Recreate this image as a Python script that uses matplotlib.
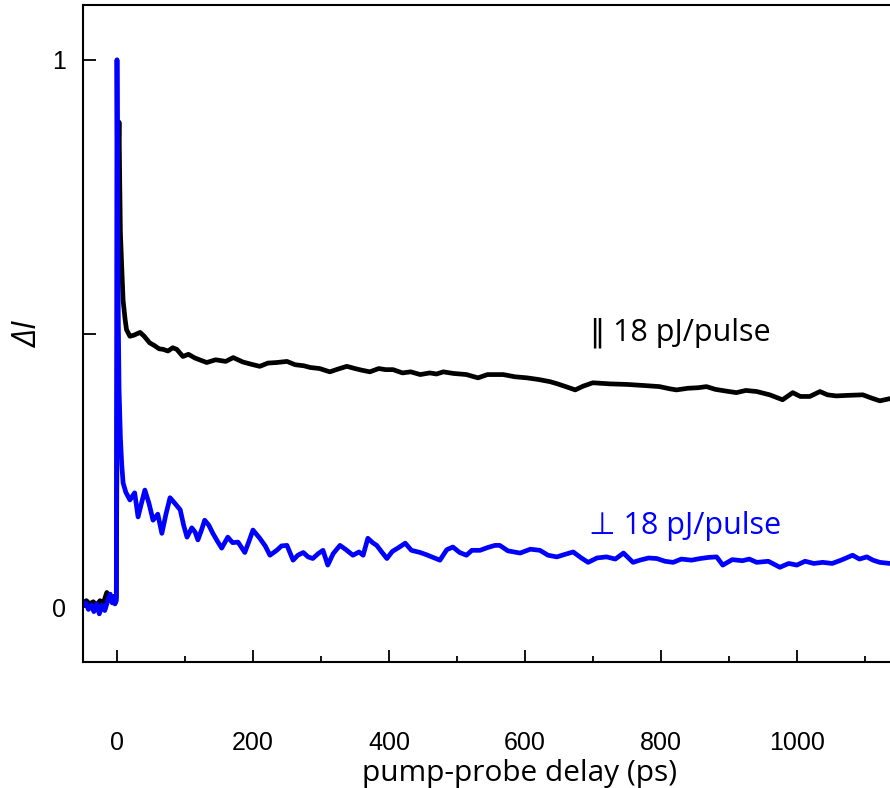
import matplotlib
matplotlib.use("Agg")
from matplotlib import pyplot as plt
from matplotlib.ticker import MultipleLocator, FixedLocator

plt.rcParams["font.family"] = ["Liberation Sans", "DejaVu Sans"]

# parallel polarisation, 18 pJ/pulse  (delay ps, dI)
par_pts = [(-50, 0.008), (-45, 0.012), (-40, 0.006), (-35, 0.010), (-30, 0.004),
           (-25, 0.012), (-20, 0.008), (-15, 0.027), (-10, 0.015), (-5, 0.020),
           (-2, 0.012), (-1, 0.020), (0, 0.30), (1, 0.62), (2, 0.82), (3, 0.886),
           (4, 0.78), (5, 0.685), (7, 0.62), (9, 0.56), (12, 0.525), (14, 0.507),
           (19, 0.495), (25, 0.497), (34, 0.502), (40, 0.495), (48, 0.483),
           (55, 0.478), (62, 0.472), (68, 0.471), (75, 0.468), (82, 0.474),
           (88, 0.471), (97, 0.458), (105, 0.462), (115, 0.455), (132, 0.447),
           (145, 0.452), (160, 0.449), (171, 0.456), (185, 0.448), (197, 0.444),
           (210, 0.440), (222, 0.446), (235, 0.447), (250, 0.449), (262, 0.443),
           (275, 0.441), (284, 0.438), (298, 0.436), (313, 0.430), (325, 0.435),
           (338, 0.440), (350, 0.436), (360, 0.433), (372, 0.430), (385, 0.436),
           (395, 0.434), (406, 0.434), (420, 0.428), (432, 0.430), (446, 0.425),
           (460, 0.428), (470, 0.426), (480, 0.430), (495, 0.427), (505, 0.426),
           (514, 0.425), (531, 0.419), (545, 0.425), (568, 0.425), (585, 0.421),
           (603, 0.419), (620, 0.416), (637, 0.412), (648, 0.408), (660, 0.403),
           (674, 0.397), (686, 0.404), (700, 0.410), (725, 0.408), (750, 0.407),
           (775, 0.405), (798, 0.403), (813, 0.399), (823, 0.397), (840, 0.400),
           (855, 0.401), (867, 0.403), (880, 0.398), (895, 0.395), (911, 0.392),
           (925, 0.396), (941, 0.394), (960, 0.388), (979, 0.379), (994, 0.392),
           (1005, 0.385), (1019, 0.385), (1034, 0.394), (1045, 0.388), (1058, 0.386),
           (1075, 0.387), (1097, 0.388), (1110, 0.382), (1122, 0.377), (1137, 0.381)]

# perpendicular polarisation, 18 pJ/pulse
perp_pts = [(-50, 0.005), (-46, 0.008), (-42, -0.004), (-38, 0.004), (-34, -0.008),
            (-30, 0.006), (-26, -0.012), (-22, 0.004), (-18, -0.006), (-14, 0.010),
            (-10, 0.024), (-7, 0.008), (-5, 0.018), (-3, 0.006), (-1, 0.012),
            (0, 1.0), (1, 0.72), (2, 0.52), (3, 0.40), (5, 0.31), (7, 0.26),
            (9, 0.227), (13, 0.210), (19, 0.196), (26, 0.209), (31, 0.165),
            (36, 0.190), (41, 0.214), (47, 0.190), (53, 0.159), (60, 0.170),
            (66, 0.135), (72, 0.170), (78, 0.200), (85, 0.190), (93, 0.178),
            (98, 0.150), (103, 0.128), (110, 0.145), (115, 0.137), (119, 0.123),
            (124, 0.140), (129, 0.159), (135, 0.150), (141, 0.135), (148, 0.120),
            (154, 0.108), (163, 0.128), (170, 0.118), (178, 0.119), (188, 0.100),
            (194, 0.120), (200, 0.141), (210, 0.126), (218, 0.112), (225, 0.095),
            (235, 0.104), (242, 0.112), (250, 0.113), (259, 0.086), (266, 0.095),
            (274, 0.100), (281, 0.092), (288, 0.089), (296, 0.098), (303, 0.104),
            (310, 0.077), (318, 0.098), (328, 0.113), (337, 0.105), (347, 0.095),
            (356, 0.101), (362, 0.095), (369, 0.126), (376, 0.118), (382, 0.113),
            (390, 0.100), (397, 0.089), (405, 0.102), (413, 0.108), (424, 0.117),
            (433, 0.104), (446, 0.100), (455, 0.096), (465, 0.091), (475, 0.086),
            (485, 0.105), (494, 0.110), (504, 0.100), (514, 0.095), (522, 0.104),
            (534, 0.104), (545, 0.109), (556, 0.113), (563, 0.113), (575, 0.103),
            (593, 0.099), (608, 0.106), (622, 0.104), (634, 0.095), (647, 0.092),
            (660, 0.097), (671, 0.101), (683, 0.090), (693, 0.082), (706, 0.090),
            (720, 0.092), (733, 0.088), (745, 0.099), (759, 0.082), (769, 0.086),
            (782, 0.090), (794, 0.089), (806, 0.084), (818, 0.082), (830, 0.088),
            (845, 0.086), (858, 0.089), (870, 0.091), (882, 0.092), (891, 0.077),
            (905, 0.087), (920, 0.085), (930, 0.088), (941, 0.082), (958, 0.084),
            (975, 0.073), (988, 0.080), (1000, 0.077), (1012, 0.084), (1025, 0.080),
            (1038, 0.082), (1052, 0.080), (1065, 0.086), (1082, 0.095), (1092, 0.088),
            (1103, 0.092), (1112, 0.086), (1122, 0.082), (1137, 0.080)]

x_major = [0, 200, 400, 600, 800, 1000]
y_major = [0, 0.5, 1]
y_labels = ["0", "", "1"]
par_label = "\u2016 18 pJ/pulse"
perp_label = "\u22a5 18 pJ/pulse"

par_t, par_dI = zip(*par_pts)
perp_t, perp_dI = zip(*perp_pts)

txt_family = ["Open Sans", "DejaVu Sans"]

fig = plt.figure(figsize=(8.9, 7.88), dpi=100)
ax = fig.add_axes([83/890, 1 - 662/788, 1 - 83/890, (662 - 5)/788])

ax.plot(par_t, par_dI, color="black", lw=3.4, solid_joinstyle="round")
ax.plot(perp_t, perp_dI, color="#0000ff", lw=3.4, solid_joinstyle="round")

ax.set_xlim(-50, 1137)
ax.set_ylim(-0.1, 1.1)

ax.xaxis.set_major_locator(FixedLocator(x_major))
ax.xaxis.set_minor_locator(MultipleLocator(100))
ax.set_yticks(y_major)
ax.set_yticklabels(y_labels)

ax.tick_params(axis="x", which="major", direction="in", length=9, width=1.3,
               pad=50, labelsize=18)
ax.tick_params(axis="x", which="minor", direction="in", length=4.5, width=1.3)
ax.tick_params(axis="y", which="major", direction="in", length=9, width=1.3,
               pad=12, labelsize=18)

for side in ["left", "bottom", "top"]:
    ax.spines[side].set_linewidth(1.5)
ax.spines["right"].set_visible(False)

ax.set_xlabel("pump-probe delay (ps)", fontsize=21.5, family=txt_family)
ax.xaxis.set_label_coords((520 - 83)/807, -0.148)
ax.set_ylabel("\u0394I", fontsize=23, style="italic", family=txt_family)
ax.yaxis.set_label_coords(-(83 - 45)/807, 0.5)

ax.text(696, 0.502, par_label, color="black", fontsize=22, ha="left", va="center",
        family=txt_family)
ax.text(694, 0.148, perp_label, color="#0000ff", fontsize=22, ha="left", va="center",
        family=txt_family)

fig.savefig("out.png", dpi=100)
